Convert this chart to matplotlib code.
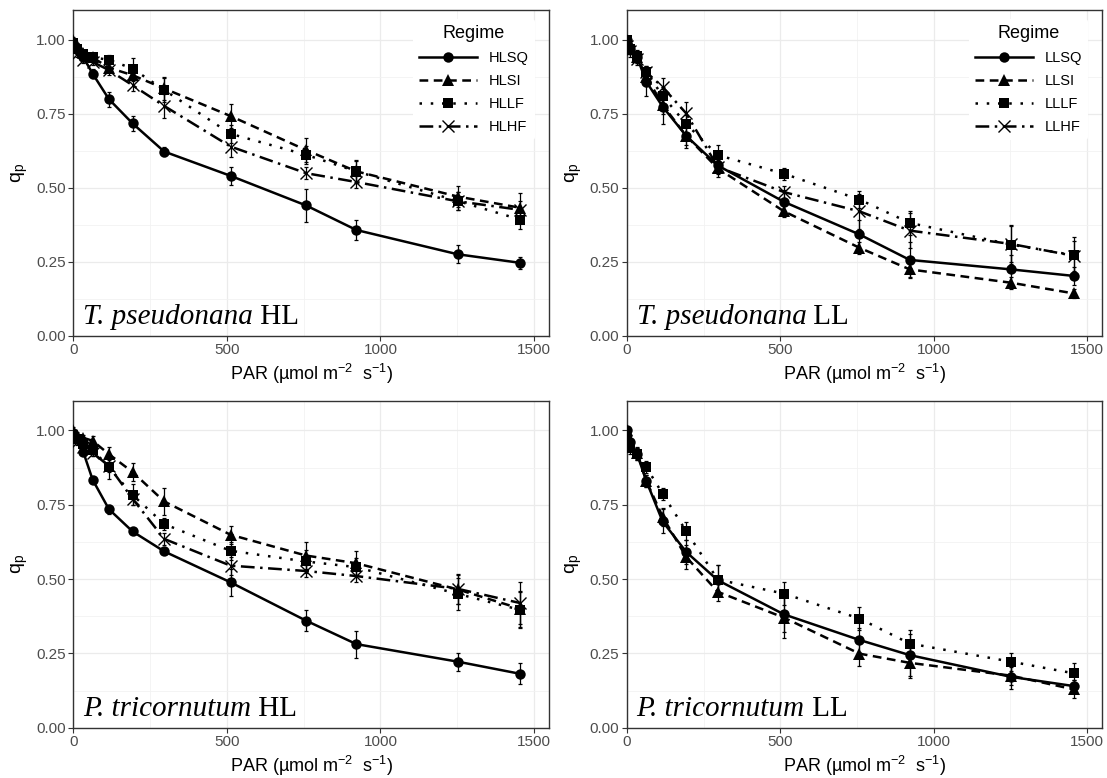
import numpy as np
import matplotlib
matplotlib.use('Agg')
import matplotlib.pyplot as plt
from matplotlib.ticker import MultipleLocator

plt.rcParams['font.family'] = ['Liberation Sans', 'DejaVu Sans']
plt.rcParams['mathtext.fontset'] = 'custom'
plt.rcParams['mathtext.rm'] = 'Liberation Sans'
plt.rcParams['mathtext.it'] = 'Liberation Sans:italic'

# light steps (PAR, umol m-2 s-1)
par = [0, 11, 33, 63, 116, 193, 296, 512, 758, 922, 1252, 1456]

# T. pseudonana HL
tp_hlsq = [0.99, 0.97, 0.94, 0.885, 0.799, 0.717, 0.622, 0.54, 0.44, 0.357, 0.275, 0.246]
tp_hlsq_err = [0.01, 0.01, 0.01, 0.015, 0.025, 0.025, 0.015, 0.03, 0.055, 0.035, 0.03, 0.02]
tp_hlsi = [1.0, 0.98, 0.955, 0.94, 0.905, 0.88, 0.835, 0.742, 0.627, 0.555, 0.47, 0.432]
tp_hlsi_err = [0.01, 0.01, 0.01, 0.01, 0.015, 0.02, 0.04, 0.04, 0.04, 0.04, 0.035, 0.05]
tp_hllf = [0.99, 0.97, 0.95, 0.94, 0.932, 0.902, 0.83, 0.682, 0.611, 0.555, 0.455, 0.392]
tp_hllf_err = [0.01, 0.01, 0.01, 0.01, 0.015, 0.035, 0.04, 0.03, 0.03, 0.035, 0.03, 0.03]
tp_hlhf = [0.97, 0.95, 0.93, 0.925, 0.897, 0.846, 0.776, 0.639, 0.549, 0.519, 0.454, 0.425]
tp_hlhf_err = [0.01, 0.01, 0.01, 0.01, 0.015, 0.02, 0.04, 0.035, 0.02, 0.02, 0.03, 0.03]

# T. pseudonana LL
tp_llsq = [1.0, 0.97, 0.94, 0.858, 0.774, 0.675, 0.575, 0.452, 0.342, 0.256, 0.224, 0.202]
tp_llsq_err = [0.01, 0.02, 0.02, 0.05, 0.06, 0.04, 0.03, 0.04, 0.05, 0.06, 0.05, 0.03]
tp_llsi = [1.0, 0.97, 0.94, 0.875, 0.78, 0.675, 0.565, 0.42, 0.297, 0.224, 0.179, 0.143]
tp_llsi_err = [0.01, 0.02, 0.02, 0.03, 0.03, 0.03, 0.03, 0.02, 0.02, 0.025, 0.02, 0.015]
tp_lllf = [1.0, 0.97, 0.945, 0.891, 0.81, 0.715, 0.61, 0.547, 0.46, 0.381, 0.308, 0.272]
tp_lllf_err = [0.01, 0.02, 0.02, 0.02, 0.03, 0.03, 0.035, 0.02, 0.03, 0.04, 0.065, 0.06]
tp_llhf = [0.98, 0.96, 0.935, 0.89, 0.84, 0.751, 0.57, 0.485, 0.42, 0.355, 0.31, 0.27]
tp_llhf_err = [0.01, 0.02, 0.02, 0.02, 0.03, 0.04, 0.02, 0.02, 0.06, 0.06, 0.06, 0.05]

# P. tricornutum HL
pt_hlsq = [0.99, 0.97, 0.926, 0.834, 0.735, 0.66, 0.593, 0.489, 0.36, 0.281, 0.222, 0.181]
pt_hlsq_err = [0.01, 0.01, 0.01, 0.01, 0.015, 0.01, 0.01, 0.045, 0.035, 0.045, 0.03, 0.035]
pt_hlsi = [1.0, 0.985, 0.975, 0.965, 0.92, 0.86, 0.761, 0.649, 0.579, 0.553, 0.465, 0.40]
pt_hlsi_err = [0.01, 0.01, 0.01, 0.015, 0.025, 0.03, 0.045, 0.03, 0.045, 0.04, 0.05, 0.06]
pt_hllf = [0.98, 0.97, 0.955, 0.935, 0.876, 0.783, 0.685, 0.595, 0.559, 0.54, 0.45, 0.396]
pt_hllf_err = [0.01, 0.01, 0.01, 0.02, 0.04, 0.035, 0.02, 0.03, 0.04, 0.03, 0.055, 0.06]
pt_hlhf = [0.97, 0.96, 0.945, 0.925, 0.88, 0.77, 0.635, 0.545, 0.527, 0.51, 0.467, 0.419]
pt_hlhf_err = [0.01, 0.01, 0.01, 0.01, 0.02, 0.02, 0.02, 0.03, 0.02, 0.02, 0.05, 0.07]

# P. tricornutum LL
pt_llsq = [1.0, 0.96, 0.92, 0.83, 0.694, 0.591, 0.496, 0.381, 0.295, 0.244, 0.171, 0.14]
pt_llsq_err = [0.01, 0.02, 0.02, 0.02, 0.04, 0.04, 0.05, 0.06, 0.04, 0.07, 0.04, 0.02]
pt_llsi = [1.0, 0.95, 0.925, 0.83, 0.71, 0.574, 0.457, 0.37, 0.249, 0.218, 0.175, 0.129]
pt_llsi_err = [0.01, 0.02, 0.02, 0.02, 0.03, 0.04, 0.03, 0.07, 0.04, 0.05, 0.03, 0.03]
pt_lllf = [0.97, 0.94, 0.92, 0.876, 0.787, 0.661, 0.498, 0.451, 0.367, 0.283, 0.222, 0.183]
pt_lllf_err = [0.01, 0.02, 0.02, 0.02, 0.02, 0.03, 0.05, 0.04, 0.04, 0.045, 0.03, 0.035]

styles = {
    'SQ': dict(ls='-', marker='o', ms=7.5, mew=0),
    'SI': dict(ls=(0, (3.5, 2.2)), marker='^', ms=8, mew=0),
    'LF': dict(ls=(0, (1, 3.5)), marker='s', ms=7.2, mew=0),
    'HF': dict(ls=(0, (5.5, 2.2, 1, 2.2)), marker='x', ms=8, mew=1.0),
}

panels = [
    ('T. pseudonana', 'HL', [('SQ', tp_hlsq, tp_hlsq_err), ('SI', tp_hlsi, tp_hlsi_err),
                             ('LF', tp_hllf, tp_hllf_err), ('HF', tp_hlhf, tp_hlhf_err)], True),
    ('T. pseudonana', 'LL', [('SQ', tp_llsq, tp_llsq_err), ('SI', tp_llsi, tp_llsi_err),
                             ('LF', tp_lllf, tp_lllf_err), ('HF', tp_llhf, tp_llhf_err)], True),
    ('P. tricornutum', 'HL', [('SQ', pt_hlsq, pt_hlsq_err), ('SI', pt_hlsi, pt_hlsi_err),
                              ('LF', pt_hllf, pt_hllf_err), ('HF', pt_hlhf, pt_hlhf_err)], False),
    ('P. tricornutum', 'LL', [('SQ', pt_llsq, pt_llsq_err), ('SI', pt_llsi, pt_llsi_err),
                              ('LF', pt_lllf, pt_lllf_err)], False),
]

# axes boxes in figure fractions
boxes = [
    (0.0662, 0.5685, 0.4300, 0.4186),
    (0.5664, 0.5685, 0.4294, 0.4186),
    (0.0662, 0.0647, 0.4300, 0.4203),
    (0.5664, 0.0647, 0.4294, 0.4203),
]

fig = plt.figure(figsize=(11.07, 7.78), dpi=100)

for (species, light, series, show_leg), box in zip(panels, boxes):
    ax = fig.add_axes(box)
    handles = []
    for code, vals, errs in series:
        st = styles[code]
        ax.errorbar(par, vals, yerr=errs, fmt='none', ecolor='black',
                    elinewidth=0.9, capsize=1.6, capthick=0.9, zorder=3)
        h, = ax.plot(par, vals, color='black', lw=1.8, ls=st['ls'],
                     marker=st['marker'], ms=st['ms'], mew=st['mew'],
                     mfc='black', mec='black', zorder=4, label=light + code)
        handles.append(h)

    ax.set_xlim(0, 1550)
    ax.set_ylim(0, 1.1)
    ax.xaxis.set_major_locator(MultipleLocator(500))
    ax.xaxis.set_minor_locator(MultipleLocator(250))
    ax.yaxis.set_major_locator(MultipleLocator(0.25))
    ax.yaxis.set_minor_locator(MultipleLocator(0.125))
    ax.yaxis.set_major_formatter(matplotlib.ticker.FormatStrFormatter('%.2f'))
    ax.grid(which='major', color='#EBEBEB', lw=0.9)
    ax.grid(which='minor', color='#F2F2F2', lw=0.6)
    ax.set_axisbelow(True)
    ax.tick_params(which='major', length=3.5, width=0.8, color='#333333',
                   labelsize=11, labelcolor='#4D4D4D', pad=2)
    ax.tick_params(which='minor', length=0)
    for sp in ax.spines.values():
        sp.set_color('#333333')
        sp.set_linewidth(1.0)

    ax.set_xlabel('PAR (µmol m$^{-2}$  s$^{-1}$)', fontsize=13, labelpad=3)
    ax.set_ylabel(r'q$_{\mathrm{p}}$', fontsize=14, labelpad=4)

    t = ax.text(0.02, 0.018, species, transform=ax.transAxes, fontsize=21,
                family='Liberation Serif', style='italic', ha='left', va='bottom')
    ax.annotate(' ' + light, xy=(1, 0), xycoords=t, fontsize=21,
                family='Liberation Serif', ha='left', va='bottom')

    if show_leg:
        leg = ax.legend(handles=handles, title='Regime', loc='upper right',
                        bbox_to_anchor=(0.985, 0.995), fontsize=10.5,
                        title_fontsize=13, handlelength=4.0, labelspacing=0.62,
                        frameon=True, facecolor='white', edgecolor='white',
                        framealpha=1, borderpad=0.4, handletextpad=0.8)
        leg.get_frame().set_linewidth(0)

fig.savefig('out.png', dpi=100)
